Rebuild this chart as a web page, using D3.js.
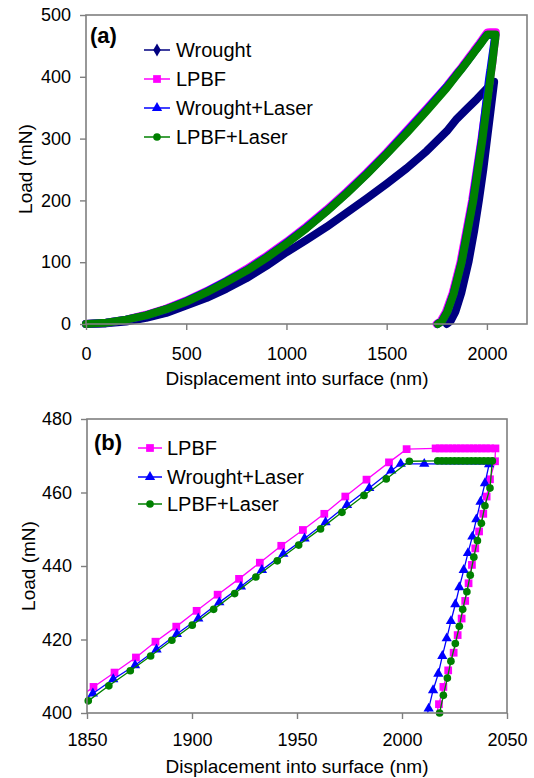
<!DOCTYPE html>
<html><head><meta charset="utf-8">
<script src="https://cdn.jsdelivr.net/npm/d3@7"></script>
<style>
body{margin:0;background:#fff;}
svg{display:block;}
</style></head><body>
<svg id="chart" width="534" height="778"></svg>
<script>
// ---------------- DATA ----------------
const seriesNames = ["Wrought", "LPBF", "Wrought+Laser", "LPBF+Laser"];
const seriesColors = ["#000080", "#FF00FF", "#0000FF", "#008000"];

const xTicksA = [0, 500, 1000, 1500, 2000];
const yTicksA = [0, 100, 200, 300, 400, 500];
const xTicksB = [1850, 1900, 1950, 2000, 2050];
const yTicksB = [400, 420, 440, 460, 480];

// Wrought
const wroughtLoad = [[0,0],[100,1],[200,4],[300,10],[400,18],[500,30],[600,42],[700,57],[800,74],[900,94],[1000,116],[1100,136],[1200,157],[1300,180],[1400,203],[1500,227],[1600,252],[1700,280],[1800,312],[1850,332],[1900,348],[1950,364],[2000,381],[2030,392]];
const wroughtHold = [[2036,392]];
const wroughtUnload = [[2020,350],[2001,300],[1982,250],[1960,200],[1936,150],[1908,100],[1872,50],[1843,20],[1819,5],[1800,0]];

// LPBF
const lpbfLoad = [[0,0],[100,2],[200,7],[300,15],[400,25],[500,38],[600,53],[700,70],[800,89],[900,110],[1000,133],[1100,158],[1200,185],[1300,214],[1400,245],[1500,278],[1600,313],[1700,349],[1800,385],
  [1843.2,403.0],[1853.1,407.1],[1863.1,411.0],[1873.3,415.1],[1882.6,419.4],[1892.5,423.5],[1902.2,427.8],[1912.2,432.2],[1922.4,436.5],[1932.3,440.9],[1942.5,445.5],[1952.8,449.8],[1963.0,454.2],[1973.0,458.9],[1983.1,463.5],[1993.8,468.2],[2002.2,471.8]];
const lpbfHold = [[2016,472.0],[2018,472.0],[2020,472.0],[2022,472.0],[2024,472.0],[2026,472.0],[2028,472.0],[2030,472.0],[2032,472.0],[2034,472.0],[2036,472.0],[2038,472.0],[2040,472.0],[2042,472.0],[2044.5,472.0]];
const lpbfUnload = [[2044.3,468.5],[2041.9,463.6],[2040.3,458.9],[2038.7,454.2],[2036.7,449.4],[2034.9,444.8],[2033.3,440.3],[2031.7,435.3],[2030.1,430.5],[2028.4,425.7],[2026.5,421.2],[2024.6,416.4],[2022.0,411.6],[2019.7,407.1],[2017.6,402.4],[2015.5,397.7],
  [1973,300],[1926,200],[1868,100],[1829,50],[1796,20],[1770,5],[1749,0]];

// Wrought+Laser
const wlLoad = [[0,0],[100,2],[200,7],[300,14],[400,24],[500,37],[600,52],[700,69],[800,87],[900,108],[1000,131],[1100,156],[1200,183],[1300,212],[1400,243],[1500,276],[1600,311],[1700,347],[1800,384],
  [1842.6,401.0],[1852.8,405.3],[1862.5,409.2],[1872.9,413.0],[1883.1,417.3],[1892.8,421.5],[1903.0,425.7],[1913.0,430.1],[1923.3,434.4],[1933.3,438.9],[1943.5,443.3],[1953.6,447.5],[1963.6,451.9],[1973.8,456.6],[1984.4,461.2],[1994.9,466.0],[1999.4,467.8]];
const wlHold = [[2010.6,467.8],[2041.5,467.7]];
const wlUnload = [[2039.5,462.5],[2037.4,457.5],[2035.4,452.7],[2033.5,448.0],[2031.4,443.5],[2029.4,438.9],[2027.3,434.2],[2025.4,429.6],[2023.3,425.0],[2021.3,420.3],[2019.2,415.5],[2017.3,410.7],[2014.8,406.2],[2012.7,401.2],[2010.6,396.4],
  [1975,300],[1930,200],[1873,100],[1834,50],[1802,20],[1776,5],[1754,0]];

// LPBF+Laser
const llLoad = [[0,0],[100,2],[200,7],[300,14],[400,24],[500,36],[600,51],[700,68],[800,86],[900,107],[1000,130],[1100,155],[1200,182],[1300,211],[1400,242],[1500,275],[1600,309],[1700,345],[1800,382],
  [1840.5,399.1],[1850.6,403.3],[1860.4,407.4],[1870.6,411.5],[1880.3,415.5],[1890.4,419.8],[1900.1,423.9],[1910.3,428.2],[1920.3,432.5],[1930.4,437.0],[1940.6,441.4],[1950.8,445.7],[1961.2,450.1],[1971.4,454.6],[1981.9,459.2],[1992.5,463.7],[2003.5,468.5]];
const llHold = [[2017,468.6],[2019,468.6],[2021,468.6],[2023,468.6],[2025,468.6],[2027,468.6],[2029,468.6],[2031,468.6],[2033,468.6],[2035,468.6],[2037,468.6],[2039,468.6],[2041,468.6],[2043,468.6]];
const llUnload = [[2041.9,461.2],[2039.5,456.4],[2037.8,451.6],[2035.9,446.9],[2034.2,442.4],[2032.5,437.5],[2030.9,433.0],[2028.9,428.2],[2027.3,423.6],[2025.4,418.9],[2023.3,414.1],[2021.6,409.5],[2019.7,404.8],[2017.9,400.0],[2016.0,395.3],
  [1978,300],[1932,200],[1874,100],[1835,50],[1803,20],[1777,5],[1755,0]];

// ---------------- CHART ----------------
const FONT = "'Liberation Sans', Arial, sans-serif";
const AXC = "#7f7f7f";
const series = [
  wroughtLoad.concat(wroughtHold, wroughtUnload),
  lpbfLoad.concat(lpbfHold, lpbfUnload),
  wlLoad.concat(wlHold, wlUnload),
  llLoad.concat(llHold, llUnload)
];
const symbols = [d3.symbolDiamond, d3.symbolSquare, d3.symbolTriangle, d3.symbolCircle];
const symSizes = [50, 60, 46, 46];

const svg = d3.select("#chart").attr("font-family", FONT);

function frame(x, y, xTicks, yTicks, xPad, yPad) {
  const [x0, x1] = x.range(), [y0, y1] = y.range();
  const gx = svg.append("g").attr("transform", `translate(0,${y0})`)
    .call(d3.axisBottom(x).tickValues(xTicks).tickSize(6).tickSizeOuter(0).tickPadding(xPad).tickFormat(d3.format("d")));
  const gy = svg.append("g").attr("transform", `translate(${x0},0)`)
    .call(d3.axisLeft(y).tickValues(yTicks).tickSize(6).tickSizeOuter(0).tickPadding(yPad).tickFormat(d3.format("d")));
  [gx, gy].forEach(g => {
    g.attr("font-family", FONT).attr("font-size", 18);
    g.select(".domain").remove();
    g.selectAll(".tick line").attr("stroke", AXC).attr("stroke-width", 1.4);
    g.selectAll(".tick text").attr("fill", "#000");
  });
  svg.append("rect").attr("x", x0).attr("y", y1).attr("width", x1 - x0).attr("height", y0 - y1)
    .attr("fill", "none").attr("stroke", AXC).attr("stroke-width", 1.6);
}

function titles(cx, by, ycx, ycy, tag, tagX, tagY) {
  svg.append("text").attr("x", cx).attr("y", by).attr("text-anchor", "middle")
    .attr("font-size", 19).attr("fill", "#000").text("Displacement into surface (nm)");
  svg.append("text").attr("transform", `translate(${ycx},${ycy}) rotate(-90)`).attr("text-anchor", "middle")
    .attr("font-size", 19).attr("fill", "#000").text("Load (mN)");
  svg.append("text").attr("x", tagX).attr("y", tagY).attr("font-size", 22).attr("font-weight", "bold")
    .attr("fill", "#000").text(tag);
}

function legend(idx, rows, lx0, lx1, tx) {
  idx.forEach((si, k) => {
    const yy = rows[k];
    svg.append("line").attr("x1", lx0).attr("x2", lx1).attr("y1", yy).attr("y2", yy)
      .attr("stroke", seriesColors[si]).attr("stroke-width", 1.5);
    svg.append("path").attr("d", d3.symbol().type(symbols[si]).size(symSizes[si])())
      .attr("transform", `translate(${(lx0 + lx1) / 2},${yy})`).attr("fill", seriesColors[si]);
    svg.append("text").attr("x", tx).attr("y", yy + 7).attr("font-size", 20).attr("fill", "#000")
      .text(seriesNames[si]);
  });
}

// ---- Panel (a)
const xA = d3.scaleLinear().domain([0, 2200]).range([86, 527]);
const yA = d3.scaleLinear().domain([0, 500]).range([324, 15]);
const lineA = d3.line().x(d => xA(d[0])).y(d => yA(d[1]));
series.forEach((s, i) => {
  svg.append("path").attr("d", lineA(s)).attr("fill", "none").attr("stroke", seriesColors[i])
    .attr("stroke-width", 8).attr("stroke-linejoin", "round").attr("stroke-linecap", "round");
});
frame(xA, yA, xTicksA, yTicksA, 17, 9);
titles(297, 385, 32, 169, "(a)", 90, 43);
legend([0, 1, 2, 3], [50, 79, 108, 137], 144, 170, 176);

// ---- Panel (b)
const xB = d3.scaleLinear().domain([1850, 2050]).range([87, 507]);
const yB = d3.scaleLinear().domain([400, 480]).range([713, 419]);
svg.append("clipPath").attr("id", "clipB").append("rect")
  .attr("x", 87).attr("y", 419).attr("width", 420).attr("height", 294);
const lineB = d3.line().x(d => xB(d[0])).y(d => yB(d[1]));
[1, 2, 3].forEach(i => {
  const s = series[i];
  svg.append("path").attr("d", lineB(s)).attr("fill", "none").attr("stroke", seriesColors[i])
    .attr("stroke-width", 1.3).attr("clip-path", "url(#clipB)");
  const vis = s.filter(d => d[0] >= 1849 && d[0] <= 2051 && d[1] >= 399.5 && d[1] <= 481);
  svg.append("g").selectAll("path").data(vis).join("path")
    .attr("d", d3.symbol().type(symbols[i]).size(symSizes[i]))
    .attr("transform", d => `translate(${xB(d[0])},${yB(d[1])})`)
    .attr("fill", seriesColors[i]);
});
frame(xB, yB, xTicksB, yTicksB, 14, 9);
titles(297, 773, 35, 566, "(b)", 94, 450);
legend([1, 2, 3], [448, 477, 504], 138, 162, 167);
</script>
</body></html>
